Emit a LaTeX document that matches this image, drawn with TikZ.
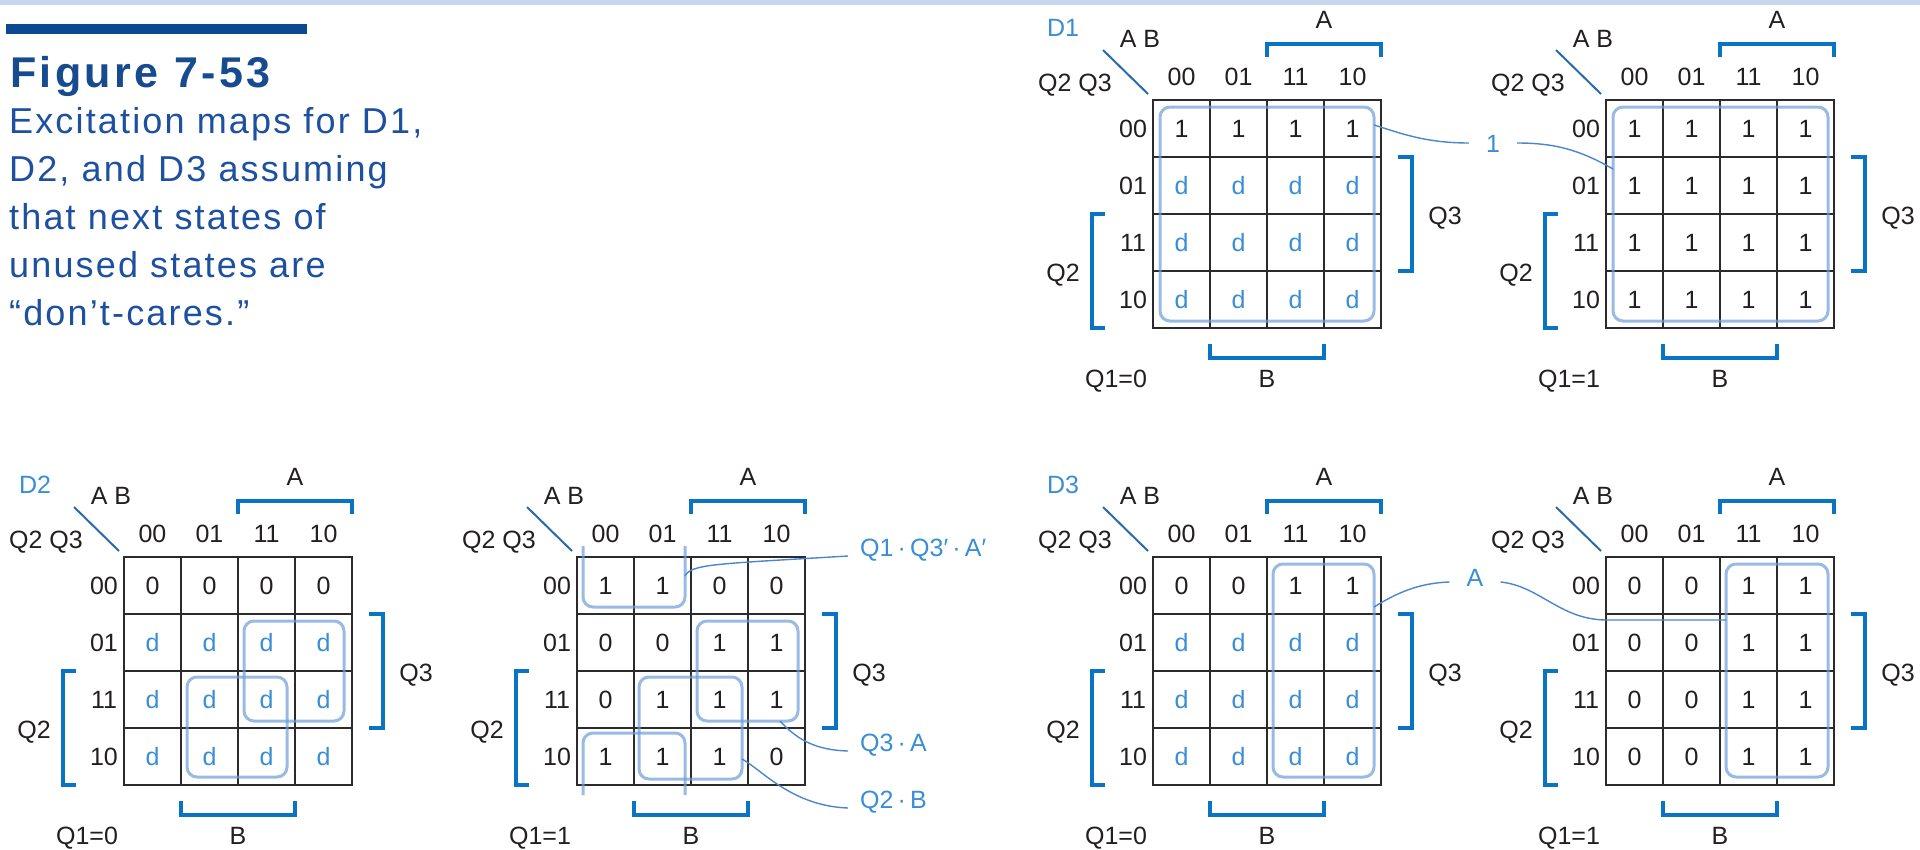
\documentclass[tikz,border=0pt]{standalone}
\usepackage{fontspec}
\setmainfont{Liberation Sans}
\newfontfamily\capfont[LetterSpace=6]{Liberation Sans}
\newfontfamily\figfont[LetterSpace=8]{Liberation Sans}
\definecolor{gridc}{HTML}{2B2B2B}
\definecolor{brk}{HTML}{0A74C4}
\definecolor{diagc}{HTML}{2C6BA8}
\definecolor{dcol}{HTML}{3A8ED6}
\definecolor{loopc}{HTML}{6F9FD8}
\definecolor{leadc}{HTML}{4A86CC}
\definecolor{capc}{HTML}{1E50A0}
\definecolor{figc}{HTML}{164B8F}
\definecolor{barc}{HTML}{0B4A93}
\definecolor{topband}{HTML}{C6D7EE}
\definecolor{txt}{HTML}{231F20}
\tikzset{
  mtext/.style={font=\fontsize{25}{30}\selectfont, text=txt, inner sep=0pt, text height=18pt, text depth=0pt},
  ttl/.style={mtext, text=dcol},
  bracket/.style={draw=brk, line width=4pt},
  kgrid/.style={draw=gridc, line width=2pt},
  diag/.style={draw=diagc, line width=2pt},
  kloop/.style={draw=loopc, line width=3pt, rounded corners=10pt, opacity=0.7},
  lead/.style={draw=leadc, line width=1.4pt},
  tag/.style={mtext, text=dcol},
  capline/.style={anchor=base west, inner sep=0pt, text=capc, font=\capfont\fontsize{36}{36}\selectfont},
}
\newcommand\dd{\textcolor{dcol}{d}}
% #1 name, #2 gx, #3 gy, #4 Q1 text, #5-#8 rows 00,01,11,10
\newcommand\KMap[8]{%
\begin{scope}[shift={(#2,#3)}]
  \draw[kgrid] (0,0) rectangle (228,228);
  \foreach \k in {57,114,171}{\draw[kgrid] (\k,0) -- (\k,228); \draw[kgrid] (0,\k) -- (228,\k);}
  \foreach \h [count=\i from 0] in {00,01,11,10}{
    \node[mtext] (#1-col\i) at ({28.5+57*\i},-24) {\h};
    \node[mtext] (#1-row\i) at (-20,{28.5+57*\i}) {\h};
  }
  \foreach \v [count=\i from 0] in {#5}{\node[mtext] (#1-a\i) at ({28.5+57*\i},28.5) {\v};}
  \foreach \v [count=\i from 0] in {#6}{\node[mtext] (#1-b\i) at ({28.5+57*\i},85.5) {\v};}
  \foreach \v [count=\i from 0] in {#7}{\node[mtext] (#1-c\i) at ({28.5+57*\i},142.5) {\v};}
  \foreach \v [count=\i from 0] in {#8}{\node[mtext] (#1-e\i) at ({28.5+57*\i},199.5) {\v};}
  \draw[diag] (-50,-50) -- (-5,-6);
  \node[mtext] (#1-AB) at (-13,-62) {A B};
  \node[mtext] (#1-QQ) at (-78,-18) {Q2 Q3};
  \draw[bracket] (114,-43) -- (114,-56) -- (228,-56) -- (228,-43);
  \node[mtext] (#1-A) at (171,-81) {A};
  \draw[bracket] (245,57) -- (259,57) -- (259,171) -- (245,171);
  \node[mtext] (#1-Q3) at (292,115) {Q3};
  \draw[bracket] (-48,114) -- (-61,114) -- (-61,228) -- (-48,228);
  \node[mtext] (#1-Q2) at (-90,172) {Q2};
  \draw[bracket] (57,244) -- (57,258) -- (171,258) -- (171,244);
  \node[mtext] (#1-B) at (114,278) {B};
  \node[mtext] (#1-Q1) at (-37,278) {#4};
\end{scope}}
\begin{document}
\begin{tikzpicture}[x=1pt,y=-1pt]
\useasboundingbox (0,0) rectangle (1920,849);
\fill[white] (0,0) rectangle (1920,849);
\fill[topband] (0,0) rectangle (1920,5);
\fill[barc] (6,24) rectangle (307,34);
\node[anchor=base west, inner sep=0pt, text=figc, font=\figfont\bfseries\fontsize{43}{43}\selectfont] (fig) at (10,87) {Figure 7-53};
\node[capline] (cap1) at (9,133) {Excitation maps for D1,};
\node[capline] (cap2) at (9,181) {D2, and D3 assuming};
\node[capline] (cap3) at (9,229) {that next states of};
\node[capline] (cap4) at (9,277) {unused states are};
\node[capline] (cap5) at (9,325) {“don’t-cares.”};

% D1
\KMap{m1}{1153}{100}{Q1=0}{1,1,1,1}{\dd,\dd,\dd,\dd}{\dd,\dd,\dd,\dd}{\dd,\dd,\dd,\dd}
\KMap{m2}{1606}{100}{Q1=1}{1,1,1,1}{1,1,1,1}{1,1,1,1}{1,1,1,1}
\node[ttl] (D1) at (1063,27) {D1};
\draw[kloop] (1160,107) rectangle (1374,321);
\draw[kloop] (1613,107) rectangle (1828,321);
\coordinate (l1a) at (1374,125);
\coordinate (l1b) at (1613,169);
\node[tag, inner xsep=17pt] (t1) at (1493,143) {1};
\draw[lead] (l1a) .. controls (1400,133) and (1425,143) .. (t1.west);
\draw[lead] (t1.east) .. controls (1555,143) and (1580,150) .. (l1b);

% D2
\KMap{m3}{124}{557}{Q1=0}{0,0,0,0}{\dd,\dd,\dd,\dd}{\dd,\dd,\dd,\dd}{\dd,\dd,\dd,\dd}
\KMap{m4}{577}{557}{Q1=1}{1,1,0,0}{0,0,1,1}{0,1,1,1}{1,1,1,0}
\node[ttl] (D2) at (35,484) {D2};
\draw[kloop] (244,621) rectangle (344,721);
\draw[kloop] (187,677) rectangle (287,777);
\draw[kloop] (583,546) -- (583,607) -- (685,607) -- (685,546);
\draw[kloop] (583,795) -- (583,733) -- (685,733) -- (685,795);
\draw[kloop] (697,621) rectangle (798,721);
\draw[kloop] (639,677) rectangle (742,779);
\node[tag, anchor=base west, inner xsep=12pt] (t2) at (848,556) {Q1\,·\,Q3′\,·\,A′};
\node[tag, anchor=base west, inner xsep=12pt] (t3) at (848,751) {Q3\,·\,A};
\node[tag, anchor=base west, inner xsep=12pt] (t4) at (848,808) {Q2\,·\,B};
\coordinate (l2) at (685,576);
\coordinate (l3) at (780,721);
\coordinate (l4) at (742,759);
\draw[lead] (l2) .. controls (691,564) and (715,564) .. (t2.base west);
\draw[lead] (l3) .. controls (795,737) and (812,750) .. (t3.base west);
\draw[lead] (l4) .. controls (762,770) and (792,806) .. (t4.base west);

% D3
\KMap{m5}{1153}{557}{Q1=0}{0,0,1,1}{\dd,\dd,\dd,\dd}{\dd,\dd,\dd,\dd}{\dd,\dd,\dd,\dd}
\KMap{m6}{1606}{557}{Q1=1}{0,0,1,1}{0,0,1,1}{0,0,1,1}{0,0,1,1}
\node[ttl] (D3) at (1063,484) {D3};
\draw[kloop] (1273,564) rectangle (1374,777);
\draw[kloop] (1726,564) rectangle (1828,777);
\coordinate (l5a) at (1374,607);
\coordinate (l5b) at (1726,620);
\node[tag, inner xsep=17pt] (t5) at (1475,577) {A};
\draw[lead] (l5a) .. controls (1398,592) and (1420,583) .. ([yshift=-5pt]t5.west);
\draw[lead] ([yshift=-5pt]t5.east) .. controls (1540,586) and (1560,620) .. (1607,620) -- (l5b);
\end{tikzpicture}
\end{document}
